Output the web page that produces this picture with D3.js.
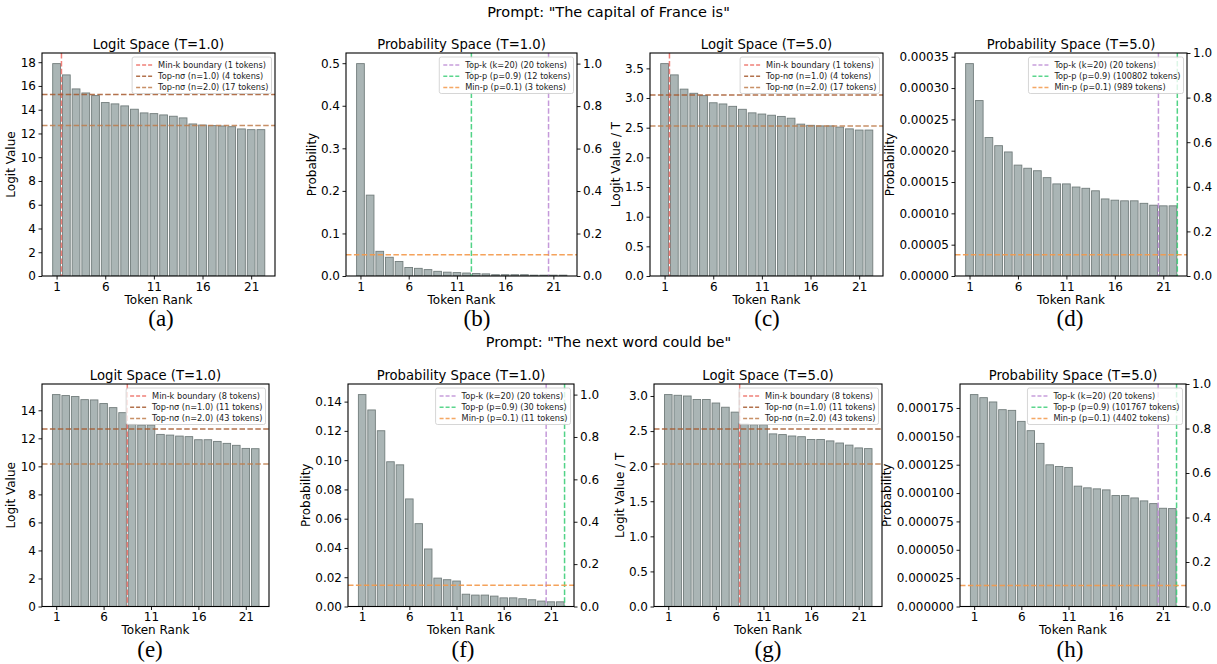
<!DOCTYPE html>
<html>
<head>
<meta charset="utf-8">
<script src="https://cdn.jsdelivr.net/npm/d3@7"></script>
<style>
body { margin: 0; background: #fff; }
svg { display: block; font-family: "DejaVu Sans", sans-serif; }
</style>
</head>
<body>
<svg id="chart" width="1217" height="664"></svg>
<script>
/* token ranks shown on the x axis */
var tokenRanks = d3.range(1, 23);
var rankTicks = [1, 6, 11, 16, 21];

/* prompt 1: "The capital of France is" */
var franceLogitsT1 = [17.88, 16.93, 15.75, 15.41, 15.19, 14.60, 14.49, 14.32, 14.04, 13.73, 13.67, 13.56, 13.45, 13.31, 12.80, 12.71, 12.66, 12.63, 12.57, 12.38, 12.32, 12.32];
var franceProbsT1 = [0.499, 0.190, 0.058, 0.044, 0.034, 0.020, 0.018, 0.015, 0.011, 0.009, 0.008, 0.007, 0.006, 0.005, 0.003, 0.003, 0.003, 0.003, 0.002, 0.002, 0.002, 0.002];
var franceLogitsT5 = [3.58, 3.39, 3.15, 3.08, 3.04, 2.92, 2.90, 2.86, 2.81, 2.75, 2.73, 2.71, 2.69, 2.66, 2.56, 2.54, 2.53, 2.53, 2.51, 2.48, 2.46, 2.46];
var franceProbsT5 = [0.000339, 0.000280, 0.000221, 0.000208, 0.000198, 0.000177, 0.000172, 0.000168, 0.000157, 0.000147, 0.000147, 0.000142, 0.000140, 0.000136, 0.000123, 0.000121, 0.000120, 0.000120, 0.000116, 0.000113, 0.000112, 0.000112];

/* prompt 2: "The next word could be" */
var nextLogitsT1 = [15.12, 15.05, 14.98, 14.76, 14.74, 14.48, 14.19, 13.83, 13.00, 12.95, 12.95, 12.28, 12.23, 12.16, 12.12, 11.90, 11.90, 11.78, 11.64, 11.50, 11.28, 11.26];
var nextProbsT1 = [0.1448, 0.1343, 0.1201, 0.0989, 0.0968, 0.0735, 0.0566, 0.0393, 0.0194, 0.0183, 0.0174, 0.0084, 0.0078, 0.0078, 0.0071, 0.0059, 0.0059, 0.0053, 0.0046, 0.0037, 0.0032, 0.0032];
var nextLogitsT5 = [3.02, 3.01, 3.00, 2.95, 2.95, 2.90, 2.84, 2.77, 2.60, 2.59, 2.59, 2.46, 2.45, 2.43, 2.42, 2.38, 2.38, 2.36, 2.33, 2.30, 2.26, 2.25];
var nextProbsT5 = [0.0001868, 0.0001841, 0.0001803, 0.0001735, 0.0001729, 0.0001632, 0.0001550, 0.0001438, 0.0001249, 0.0001234, 0.0001226, 0.0001061, 0.0001046, 0.0001037, 0.0001028, 0.0000978, 0.0000978, 0.0000957, 0.0000931, 0.0000907, 0.0000866, 0.0000863];

/* thresholds */
var minKTokens = [1, 8];                       // france, next
var franceSigmaT1 = [15.27, 12.66];
var franceSigmaT5 = [3.05, 2.53];
var nextSigmaT1 = [12.66, 10.16];
var nextSigmaT5 = [2.53, 2.03];
var topKTokens = 20;
var topPTokens = [12, 100802, 30, 101767];     // b, d, f, h
var minPLevels = [0.05, 0.0000340, 0.0145, 0.0000186];

/* tick labels */
var franceLogitTicksT1 = [0, 2, 4, 6, 8, 10, 12, 14, 16, 18];
var nextLogitTicksT1 = [0, 2, 4, 6, 8, 10, 12, 14];
var franceLogitTicksT5 = [0, 0.5, 1, 1.5, 2, 2.5, 3, 3.5];
var nextLogitTicksT5 = [0, 0.5, 1, 1.5, 2, 2.5, 3];
var franceProbTicksT1 = [0, 0.1, 0.2, 0.3, 0.4, 0.5];
var franceProbTicksT5 = [0, 0.00005, 0.0001, 0.00015, 0.0002, 0.00025, 0.0003, 0.00035];
var nextProbTicksT1 = [0, 0.02, 0.04, 0.06, 0.08, 0.1, 0.12, 0.14];
var nextProbTicksT5 = [0, 0.000025, 0.00005, 0.000075, 0.0001, 0.000125, 0.00015, 0.000175];
var rightTicks = [0, 0.2, 0.4, 0.6, 0.8, 1.0];

/* legend labels */
var franceLogitLegend = ["Min-k boundary (1 tokens)", "Top-n\u03c3 (n=1.0) (4 tokens)", "Top-n\u03c3 (n=2.0) (17 tokens)"];
var nextLogitLegend = ["Min-k boundary (8 tokens)", "Top-n\u03c3 (n=1.0) (11 tokens)", "Top-n\u03c3 (n=2.0) (43 tokens)"];
var franceProbLegendT1 = ["Top-k (k=20) (20 tokens)", "Top-p (p=0.9) (12 tokens)", "Min-p (p=0.1) (3 tokens)"];
var franceProbLegendT5 = ["Top-k (k=20) (20 tokens)", "Top-p (p=0.9) (100802 tokens)", "Min-p (p=0.1) (989 tokens)"];
var nextProbLegendT1 = ["Top-k (k=20) (20 tokens)", "Top-p (p=0.9) (30 tokens)", "Min-p (p=0.1) (11 tokens)"];
var nextProbLegendT5 = ["Top-k (k=20) (20 tokens)", "Top-p (p=0.9) (101767 tokens)", "Min-p (p=0.1) (4402 tokens)"];

var colors = {
	bar: "#aab5b5", barEdge: "#727d7c",
	minK: "#ee6b62", sigma1: "#a65a2e", sigma2: "#bf7d4c",
	topK: "#bf8fd6", topP: "#3fcf7a", minP: "#f4994a"
};

var svg = d3.select("#chart");
var dash = "5.5,2.4";

function draw_panel(p){
	var g = svg.append("g").attr("transform", "translate(" + p.left + "," + p.top + ")");
	var w = p.width, h = p.height;

	var x = d3.scaleLinear().domain([-0.5, 23.45]).range([0, w]);
	var y = d3.scaleLinear().domain([0, d3.max(p.values) * 1.05]).range([h, 0]);

	g.append("clipPath").attr("id", "clip-" + p.id)
	.append("rect").attr("width", w).attr("height", h);

	var plot = g.append("g").attr("clip-path", "url(#clip-" + p.id + ")");

	plot.selectAll("rect.bar")
	.data(p.values)
	.enter().append("rect")
	.attr("class", "bar")
	.attr("x", function(d, i){ return x(tokenRanks[i] - 0.4); })
	.attr("width", x(0.8) - x(0))
	.attr("y", function(d){ return y(d); })
	.attr("height", function(d){ return h - y(d); })
	.attr("fill", colors.bar)
	.attr("stroke", colors.barEdge)
	.attr("stroke-width", 0.9);

	var cutX = function(n){ return x(Math.min(n + 0.5, 22.45)); };

	var legendItems;
	if(p.kind == "logit"){
		plot.append("line")
		.attr("x1", cutX(p.minK)).attr("x2", cutX(p.minK))
		.attr("y1", 0).attr("y2", h)
		.attr("stroke", colors.minK).attr("stroke-width", 1.5).attr("stroke-dasharray", dash).attr("opacity", 0.85);
		p.sigma.forEach(function(v, i){
			plot.append("line")
			.attr("x1", 0).attr("x2", w)
			.attr("y1", y(v)).attr("y2", y(v))
			.attr("stroke", i == 0 ? colors.sigma1 : colors.sigma2)
			.attr("stroke-width", 1.5).attr("stroke-dasharray", dash).attr("opacity", 0.85);
		});
		legendItems = [colors.minK, colors.sigma1, colors.sigma2];
	} else {
		[[topKTokens, colors.topK], [p.topP, colors.topP]].forEach(function(c){
			plot.append("line")
			.attr("x1", cutX(c[0])).attr("x2", cutX(c[0]))
			.attr("y1", 0).attr("y2", h)
			.attr("stroke", c[1]).attr("stroke-width", 1.5).attr("stroke-dasharray", dash).attr("opacity", 0.9);
		});
		plot.append("line")
		.attr("x1", 0).attr("x2", w)
		.attr("y1", y(p.minP)).attr("y2", y(p.minP))
		.attr("stroke", colors.minP).attr("stroke-width", 1.5).attr("stroke-dasharray", dash).attr("opacity", 0.9);
		legendItems = [colors.topK, colors.topP, colors.minP];
	}

	// axes
	var xAxis = g.append("g").attr("transform", "translate(0," + h + ")")
	.call(d3.axisBottom(x).tickValues(rankTicks).tickFormat(d3.format("d")).tickSize(3.5).tickPadding(2.5));
	var yAxis = g.append("g")
	.call(d3.axisLeft(y).tickValues(p.yTicks).tickFormat(d3.format(p.fmt)).tickSize(3.5).tickPadding(2.5));
	[xAxis, yAxis].forEach(function(a){
		a.select(".domain").remove();
		a.selectAll("text").attr("font-size", 12).attr("font-family", "DejaVu Sans").attr("fill", "#000");
		a.selectAll("line").attr("stroke", "#000").attr("stroke-width", 0.9);
	});

	if(p.right){
		var yr = d3.scaleLinear().domain([0, p.right]).range([h, 0]);
		var rAxis = g.append("g").attr("transform", "translate(" + w + ",0)")
		.call(d3.axisRight(yr).tickValues(rightTicks).tickFormat(d3.format(".1f")).tickSize(3.5).tickPadding(2.5));
		rAxis.select(".domain").remove();
		rAxis.selectAll("text").attr("font-size", 12).attr("font-family", "DejaVu Sans").attr("fill", "#000");
		rAxis.selectAll("line").attr("stroke", "#000").attr("stroke-width", 0.9);
	}

	g.append("rect").attr("width", w).attr("height", h)
	.attr("fill", "none").attr("stroke", "#000").attr("stroke-width", 1.1);

	// legend (upper right)
	var lg = g.append("g");
	var box = lg.append("rect").attr("fill", "#fff").attr("fill-opacity", 0.8)
	.attr("stroke", "#cccccc").attr("stroke-width", 0.8).attr("rx", 2);
	var maxLen = 0;
	var texts = p.legend.map(function(t, i){
		var tx = lg.append("text").attr("font-size", 8.2).attr("fill", "#222")
		.attr("y", 8 + i * 11.3).attr("dy", "0.35em").text(t);
		maxLen = Math.max(maxLen, tx.node().getComputedTextLength());
		return tx;
	});
	var bw = 26 + maxLen + 3;
	var bx = w - 3.5 - bw, by = 4;
	lg.attr("transform", "translate(" + bx + "," + by + ")");
	box.attr("width", bw).attr("height", 36.5);
	texts.forEach(function(tx, i){
		tx.attr("x", 26);
		lg.append("line")
		.attr("x1", 4).attr("x2", 20)
		.attr("y1", 8 + i * 11.3).attr("y2", 8 + i * 11.3)
		.attr("stroke", legendItems[i]).attr("stroke-width", 1.5)
		.attr("stroke-dasharray", "4,2").attr("opacity", 0.85);
	});

	// title, labels
	g.append("text").attr("x", w / 2).attr("y", -4.5)
	.attr("text-anchor", "middle").attr("font-size", 13.2).text(p.title);

	g.append("text").attr("x", w / 2).attr("y", h + 27.5)
	.attr("text-anchor", "middle").attr("font-size", 12).text("Token Rank");

	var tickLeft = yAxis.node().getBBox().x;
	g.append("text")
	.attr("transform", "translate(" + (tickLeft - 9.5) + "," + (h / 2) + ") rotate(-90)")
	.attr("text-anchor", "middle").attr("dy", "0.35em").attr("font-size", 12).text(p.ylabel);

	svg.append("text").attr("x", p.capX).attr("y", p.top + h + 50)
	.attr("text-anchor", "middle").attr("font-family", "Liberation Serif, Times New Roman, serif")
	.attr("font-size", 23).text(p.caption);
}

var panels = [
	{id: "a", left: 42, top: 53, width: 233, height: 223, kind: "logit", values: franceLogitsT1, yTicks: franceLogitTicksT1, fmt: "d",
	 minK: minKTokens[0], sigma: franceSigmaT1, legend: franceLogitLegend, title: "Logit Space (T=1.0)", ylabel: "Logit Value", caption: "(a)", capX: 161},
	{id: "b", left: 346, top: 53, width: 231, height: 223, kind: "prob", values: franceProbsT1, yTicks: franceProbTicksT1, fmt: ".1f", right: 1.05,
	 topP: topPTokens[0], minP: minPLevels[0], legend: franceProbLegendT1, title: "Probability Space (T=1.0)", ylabel: "Probability", caption: "(b)", capX: 477},
	{id: "c", left: 650, top: 53, width: 233, height: 223, kind: "logit", values: franceLogitsT5, yTicks: franceLogitTicksT5, fmt: ".1f",
	 minK: minKTokens[0], sigma: franceSigmaT5, legend: franceLogitLegend, title: "Logit Space (T=5.0)", ylabel: "Logit Value / T", caption: "(c)", capX: 767},
	{id: "d", left: 955, top: 53, width: 232, height: 223, kind: "prob", values: franceProbsT5, yTicks: franceProbTicksT5, fmt: ".5f", right: 1.0,
	 topP: topPTokens[1], minP: minPLevels[1], legend: franceProbLegendT5, title: "Probability Space (T=5.0)", ylabel: "Probability", caption: "(d)", capX: 1070},
	{id: "e", left: 42, top: 384, width: 227, height: 222.5, kind: "logit", values: nextLogitsT1, yTicks: nextLogitTicksT1, fmt: "d",
	 minK: minKTokens[1], sigma: nextSigmaT1, legend: nextLogitLegend, title: "Logit Space (T=1.0)", ylabel: "Logit Value", caption: "(e)", capX: 150},
	{id: "f", left: 348, top: 384, width: 226, height: 222.5, kind: "prob", values: nextProbsT1, yTicks: nextProbTicksT1, fmt: ".2f", right: 1.05,
	 topP: topPTokens[2], minP: minPLevels[2], legend: nextProbLegendT1, title: "Probability Space (T=1.0)", ylabel: "Probability", caption: "(f)", capX: 463},
	{id: "g", left: 654, top: 384, width: 228, height: 222.5, kind: "logit", values: nextLogitsT5, yTicks: nextLogitTicksT5, fmt: ".1f",
	 minK: minKTokens[1], sigma: nextSigmaT5, legend: nextLogitLegend, title: "Logit Space (T=5.0)", ylabel: "Logit Value / T", caption: "(g)", capX: 768},
	{id: "h", left: 960, top: 384, width: 226, height: 222.5, kind: "prob", values: nextProbsT5, yTicks: nextProbTicksT5, fmt: ".6f", right: 1.0,
	 topP: topPTokens[3], minP: minPLevels[3], legend: nextProbLegendT5, title: "Probability Space (T=5.0)", ylabel: "Probability", caption: "(h)", capX: 1070}
];

svg.append("text").attr("x", 608.5).attr("y", 16.5).attr("text-anchor", "middle")
.attr("font-size", 14.5).text("Prompt: \"The capital of France is\"");
svg.append("text").attr("x", 608.5).attr("y", 346.5).attr("text-anchor", "middle")
.attr("font-size", 14.5).text("Prompt: \"The next word could be\"");

panels.forEach(draw_panel);
</script>
</body>
</html>
